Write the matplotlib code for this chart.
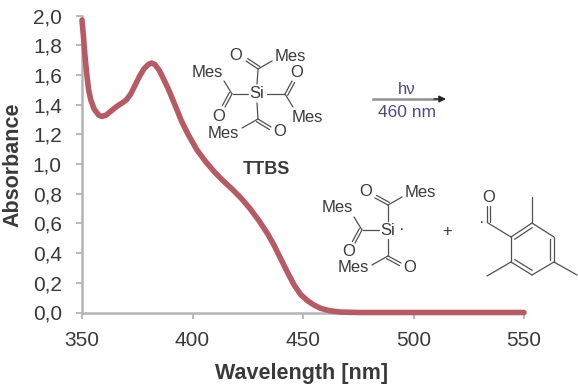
import matplotlib
matplotlib.use('Agg')
import matplotlib.pyplot as plt

plt.rcParams['font.family'] = ['Liberation Sans', 'DejaVu Sans']

wavelength = [350, 350.7, 351.4, 352.2, 353, 354, 355.5, 357.5, 359, 361, 363, 365.5, 368, 370, 372, 374, 376, 378,
              380, 381.5, 383, 385, 387, 389.5, 392, 395, 398, 402, 406, 410, 414, 418, 422, 426, 430, 434, 437,
              440, 443, 446, 449, 452, 455, 458, 462, 467, 475, 500, 550]
absorbance = [1.97, 1.85, 1.72, 1.60, 1.50, 1.43, 1.37, 1.33, 1.32, 1.33, 1.355, 1.385, 1.41, 1.43, 1.47, 1.53, 1.59, 1.64,
              1.67, 1.68, 1.67, 1.63, 1.57, 1.49, 1.40, 1.29, 1.2, 1.095, 1.015, 0.945, 0.885, 0.83, 0.77, 0.70, 0.62, 0.53, 0.45,
              0.36, 0.27, 0.185, 0.12, 0.08, 0.05, 0.028, 0.012, 0.003, 0.0, 0.0, 0.0]
x_ticks = [350, 400, 450, 500, 550]
y_ticks = [0.0, 0.2, 0.4, 0.6, 0.8, 1.0, 1.2, 1.4, 1.6, 1.8, 2.0]
y_labels = ['0,0', '0,2', '0,4', '0,6', '0,8', '1,0', '1,2', '1,4', '1,6', '1,8', '2,0']

W, H = 578, 392
GREY = '#b4b4b4'
TEXT = '#3a3a3a'
INK = '#505050'

fig = plt.figure(figsize=(W / 100, H / 100), dpi=100)
ax = fig.add_axes([82 / W, 1 - 312.5 / H, (524 - 82) / W, (312.5 - 15.5) / H])
ax.plot(wavelength, absorbance, color='#b85a63', lw=4, solid_capstyle='round', solid_joinstyle='round',
        clip_on=False, zorder=5)
ax.set_xlim(350, 550)
ax.set_ylim(0, 2)
ax.set_xticks(x_ticks)
ax.set_yticks(y_ticks)
ax.set_yticklabels(y_labels)
ax.tick_params(axis='both', color=GREY, width=1.3, length=4.5, labelsize=15, labelcolor=TEXT)
ax.tick_params(axis='y', pad=10)
ax.tick_params(axis='x', pad=9)
for side in ['top', 'right']:
    ax.spines[side].set_visible(False)
for side in ['left', 'bottom']:
    ax.spines[side].set_color(GREY)
    ax.spines[side].set_linewidth(1.8)
ax.set_xlabel('Wavelength [nm]', fontsize=15.5, fontweight='bold', color=TEXT)
ax.xaxis.set_label_coords((302 - 82) / 442, -(373 - 312.5) / 297, transform=ax.transAxes)
ax.xaxis.label.set_va('center')
ax.set_ylabel('Absorbance', fontsize=15.5, fontweight='bold', color=TEXT)
ax.yaxis.set_label_coords((13 - 82) / 442, (312.5 - 165) / 297, transform=ax.transAxes)
ax.yaxis.label.set_va('center')

# scheme on top, in pixel coordinates of the picture
sk = fig.add_axes([0, 0, 1, 1])
sk.set_xlim(0, W)
sk.set_ylim(H, 0)
sk.axis('off')
sk.patch.set_alpha(0)


def bond(p, q, double=False):
    sk.plot([p[0], q[0]], [p[1], q[1]], color=INK, lw=0.9, solid_capstyle='round')
    if double:
        dx, dy = q[0] - p[0], q[1] - p[1]
        n = (dx * dx + dy * dy) ** 0.5
        ox, oy = -dy / n * 3, dx / n * 3
        sk.plot([p[0] + ox, q[0] + ox], [p[1] + oy, q[1] + oy], color=INK, lw=0.9, solid_capstyle='round')


def label(x, y, s, size=12, color=TEXT, weight='normal'):
    sk.text(x, y, s, fontsize=size, color=color, fontweight=weight, ha='center', va='center')


# TTBS
bond((257, 84), (258, 70))
bond((248, 94), (233, 94))
bond((267, 94), (285, 94))
bond((257, 103), (258, 119))
bond((258, 69), (246, 61), True)
bond((258, 69), (272, 61))
bond((232, 94), (224, 81))
bond((232, 94), (225, 107), True)
bond((285, 94), (292, 81), True)
bond((285, 94), (293, 107))
bond((258, 119), (271, 127), True)
bond((258, 119), (242, 128))
label(257, 93, 'Si')
label(236, 55, 'O')
label(290, 56, 'Mes')
label(207, 72, 'Mes')
label(219, 116, 'O')
label(297, 72, 'O')
label(307, 117, 'Mes')
label(280, 132, 'O')
label(223, 133, 'Mes')
label(266, 169, 'TTBS', size=13, weight='bold')

# arrow
sk.plot([373, 436], [99, 99], color='#909090', lw=1.8)
sk.annotate('', xy=(446, 99), xytext=(434, 99),
            arrowprops=dict(arrowstyle='-|>', color='#222222', lw=1, mutation_scale=10, shrinkA=0, shrinkB=0))
label(407, 89, 'hν', color='#4a4a8c')
label(407, 112, '460 nm', size=12.5, color='#4a4a8c')

# silyl radical
bond((388, 221), (388, 205))
bond((379, 230), (363, 230))
bond((388, 239), (388, 256))
bond((388, 205), (375, 198), True)
bond((388, 205), (402, 197))
bond((362, 230), (354, 217))
bond((362, 230), (355, 243), True)
bond((388, 256), (401, 263), True)
bond((388, 256), (372, 265))
label(388, 230, 'Si')
label(402, 229, '·', size=12)
label(366, 191, 'O')
label(420, 192, 'Mes')
label(337, 207, 'Mes')
label(349, 252, 'O')
label(410, 268, 'O')
label(353, 268, 'Mes')
label(447, 231, '+', size=12)

# mesitoyl radical
ring = [(511, 237), (532, 223), (554, 237), (554, 262), (532, 275), (511, 262)]
for i in range(6):
    bond(ring[i], ring[(i + 1) % 6])
cx, cy = 532.5, 249
for i in [0, 2, 4]:
    p, q = ring[i], ring[i + 1]
    sk.plot([p[0] + (cx - p[0]) * 0.18, q[0] + (cx - q[0]) * 0.18],
            [p[1] + (cy - p[1]) * 0.18, q[1] + (cy - q[1]) * 0.18], color=INK, lw=0.9)
bond((488, 223), (511, 237))
bond((487, 222), (487, 206), True)
bond((532, 223), (532, 197))
bond((554, 262), (577, 275))
bond((511, 262), (487, 276))
label(489, 197, 'O')
label(482, 222, '·', size=12)

fig.savefig('out.png', dpi=100)
